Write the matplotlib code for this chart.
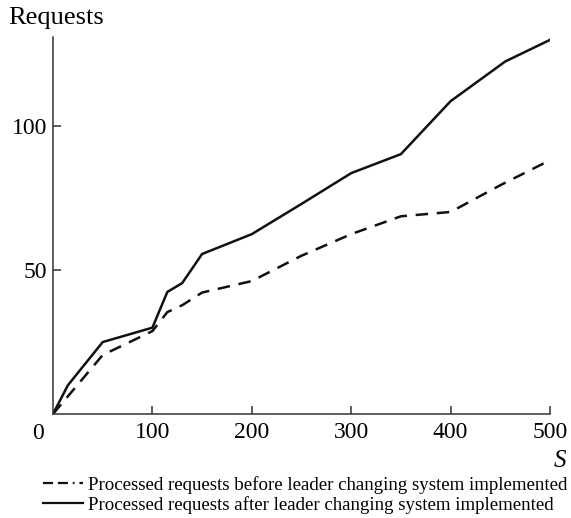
import matplotlib
matplotlib.use("Agg")
import matplotlib.pyplot as plt
from matplotlib.lines import Line2D

# Data
x_before = [0, 50, 100, 115, 130, 150, 200, 250, 300, 350, 400, 450, 500]
y_before = [0, 20.5, 28.8, 35.4, 37.8, 42.2, 46.2, 55.0, 62.5, 68.7, 70.2, 79.5, 88.2]
x_after = [0, 15, 50, 100, 115, 130, 150, 200, 250, 300, 350, 400, 455, 500]
y_after = [0, 10, 25, 30, 42.4, 45.5, 55.6, 62.5, 73.0, 83.7, 90.3, 108.7, 122.5, 130]
label_before = "Processed requests before leader changing system implemented"
label_after = "Processed requests after leader changing system implemented"
xticks = [100, 200, 300, 400, 500]
xtick_labels = ["100", "200", "300", "400", "500"]
yticks = [50, 100]
ytick_labels = ["50", "100"]

plt.rcParams['font.family'] = ['Liberation Serif', 'DejaVu Serif']

fig = plt.figure(figsize=(5.71, 5.18), dpi=100)
ax = fig.add_axes([53/571, 1-414/518, (550-53)/571, (414-37)/518])

ax.plot(x_before, y_before, color='#111111', lw=1.8, dashes=(5, 3.5), label=label_before)
ax.plot(x_after, y_after, color='#111111', lw=1.8, label=label_after)

ax.set_xlim(0, 500)
ax.set_ylim(0, 131)
for s in ['top', 'right']:
    ax.spines[s].set_visible(False)
for s in ['left', 'bottom']:
    ax.spines[s].set_color('#333333')
    ax.spines[s].set_linewidth(1.1)

ax.set_xticks(xticks)
ax.set_xticklabels(xtick_labels)
ax.set_yticks(yticks)
ax.set_yticklabels(ytick_labels)
ax.tick_params(direction='in', length=6, width=1.1, color='#333333', labelsize=17, pad=6)
ax.tick_params(axis='y', pad=4)

ax.text(-15, -3, "0", transform=ax.transData, ha='center', va='top', fontsize=17)
fig.text(8/571, 1-18/518, "Requests", fontsize=19, va='center', ha='left')
fig.text(566/571, 1-461/518, "S", fontsize=18, style='italic', ha='right', va='center')

h1 = Line2D([], [], color='#111111', lw=1.6, dashes=(4.5, 2.2, 4.5, 2.2, 0.8, 2.2))
h2 = Line2D([], [], color='#111111', lw=1.6)
leg = fig.legend([h1, h2], [label_before, label_after], loc='upper left',
                 bbox_to_anchor=(43/571, 1-476/518), frameon=False,
                 fontsize=13.6, handlelength=2.1, handletextpad=0.26, labelspacing=0.1,
                 borderpad=0, borderaxespad=0)

fig.savefig("out.png", dpi=100)
